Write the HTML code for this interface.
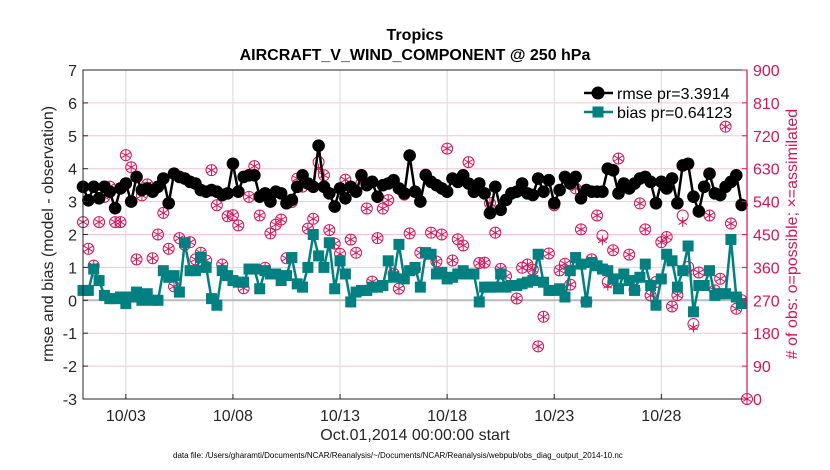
<!DOCTYPE html>
<html><head><meta charset="utf-8"><style>
body{margin:0;background:#fff;}
svg{display:block;font-family:"Liberation Sans",sans-serif;}
</style></head><body>
<svg id="chart" width="830" height="470" viewBox="0 0 830 470"></svg>
<script>
const rmse=[3.45,3.04,3.45,3.1,3.45,3.3,2.8,3.4,3.55,3.0,3.75,3.35,3.4,3.3,3.45,3.7,2.95,3.85,3.75,3.7,3.6,3.55,3.35,3.3,3.35,3.3,3.2,3.25,4.15,3.3,3.75,3.8,3.8,3.15,3.25,3.0,3.3,3.25,2.95,3.05,3.45,3.8,3.55,3.45,4.7,
3.45,3.25,2.85,3.4,3.1,3.45,3.3,3.8,3.5,3.6,3.15,3.5,3.55,3.65,3.4,3.25,4.4,3.3,3.0,3.8,3.6,3.5,3.4,3.3,3.7,3.6,3.8,3.55,3.3,3.55,3.25,2.65,3.45,2.75,3.05,3.25,3.3,3.55,3.25,3.2,3.7,
3.3,3.65,2.95,3.35,3.75,3.55,3.75,3.1,3.35,3.3,3.3,3.3,4.0,3.95,3.25,3.55,3.4,3.55,3.7,3.75,3.6,2.95,3.6,3.4,3.7,2.95,4.1,4.15,3.15,2.7,3.45,3.85,3.25,3.2,3.45,3.6,3.8,2.9,null];
const bias=[0.3,0.3,0.95,0.6,0.15,0.05,0.05,0.1,-0.1,0.1,0.25,0.0,0.2,0.0,0.0,0.9,0.7,0.75,0.25,1.75,0.9,0.9,1.3,1.0,0.05,-0.15,0.9,0.75,0.6,0.55,0.55,0.95,0.95,0.35,0.9,0.8,0.8,0.6,0.75,1.3,0.5,0.4,1.0,2.0,1.35,
1.0,1.75,0.35,1.2,0.8,-0.05,0.25,0.3,0.3,0.4,0.4,0.45,1.2,0.7,1.7,0.65,0.9,1.0,0.4,1.45,1.4,0.8,0.85,0.65,0.7,0.8,0.9,0.8,0.8,-0.05,0.4,0.4,0.4,0.8,0.4,0.45,0.45,0.5,0.55,0.6,1.4,
0.55,0.3,0.3,0.35,0.1,0.9,1.3,1.1,-0.05,1.15,1.05,0.95,0.9,0.65,0.35,0.8,0.6,0.3,0.7,1.1,0.45,-0.15,0.65,1.4,1.2,0.4,0.9,1.65,-0.35,0.45,0.45,0.9,0.15,0.2,0.2,1.85,0.1,-0.1,null];
const nPossible=[484,411,365,484,553,581,484,484,667,634,382,557,587,385,450,509,411,308,440,422,429,382,400,379,626,530,368,500,503,475,303,553,637,502,359,453,477,491,385,539,603,581,466,493,648,
612,462,425,397,600,436,400,591,521,321,440,521,544,343,302,559,453,356,400,614,455,376,450,685,379,437,420,648,566,372,373,536,455,356,336,564,275,359,368,354,144,225,
398,530,352,370,313,576,464,266,382,502,447,320,407,658,585,395,299,535,464,283,320,429,443,253,284,502,361,205,346,581,502,297,329,745,480,247,270,0];
const nAssim=nPossible.slice();
nAssim[97]=434;nAssim[112]=484;nAssim[113]=347;nAssim[114]=196;nAssim[44]=630;nAssim[98]=310;
const yTicks=[-3,-2,-1,0,1,2,3,4,5,6,7];
const rTicks=[0,90,180,270,360,450,540,630,720,810,900];
const xTickDays=[2,7,12,17,22,27];
const xTickLabels=["10/03","10/08","10/13","10/18","10/23","10/28"];

const L=83,R=747,T=70,B=399;
const xs=d=>L+(d/31)*(R-L);
const ys=v=>B-(v+3)/10*(B-T);
const yr=n=>B-n/900*(B-T);
const dayOf=i=>i*0.25;
const svg=document.getElementById('chart');
const NS='http://www.w3.org/2000/svg';
function mk(tag,attrs,parent){const e=document.createElementNS(NS,tag);for(const k in attrs)e.setAttribute(k,attrs[k]);(parent||svg).appendChild(e);return e;}
function txt(s,attrs,parent){const e=mk('text',attrs,parent);e.textContent=s;return e;}
const CR='#d6145a',TE='#008080';

yTicks.forEach(v=>{const l=mk('line',{x1:L,x2:R,y1:ys(v),y2:ys(v),stroke:'#f2c6d6','stroke-width':1});

});
xTickDays.forEach(d=>{const l=mk('line',{x1:xs(d),x2:xs(d),y1:T,y2:B,stroke:'#d8d8d8','stroke-width':1});

});
const zl=mk('line',{x1:L,x2:R,y1:ys(0),y2:ys(0),stroke:'#bbbbbb','stroke-width':2});



const obsG=mk('g',{});


nPossible.forEach((n,i)=>{const x=xs(dayOf(i)),y=yr(n);
const c=mk('circle',{cx:x,cy:y,r:5.5,fill:'none',stroke:CR,'stroke-width':1},obsG);

});
nAssim.forEach((n,i)=>{const x=xs(dayOf(i)),y=yr(n);
const g=mk('g',{stroke:CR,'stroke-width':1},obsG);


mk('line',{x1:x,x2:x,y1:y-5,y2:y+5},g);mk('line',{x1:x-4.3,x2:x+4.3,y1:y-2.5,y2:y+2.5},g);mk('line',{x1:x-4.3,x2:x+4.3,y1:y+2.5,y2:y-2.5},g);});

function series(arr,color,name,marker){
const g=mk('g',{});


let d='';arr.forEach((v,i)=>{if(v===null)return;d+=(d?'L':'M')+xs(dayOf(i)).toFixed(1)+' '+ys(v).toFixed(1);});
mk('path',{d:d,fill:'none',stroke:color,'stroke-width':2.5},g);
arr.forEach((v,i)=>{if(v===null)return;const x=xs(dayOf(i)),y=ys(v);let m;
if(marker==='c')m=mk('circle',{cx:x,cy:y,r:6.3,fill:color},g);
else m=mk('rect',{x:x-5.5,y:y-5.5,width:11,height:11,fill:color},g);

});
}
series(bias,TE,'bias-series','s');
series(rmse,'#000','rmse-series','c');

const ax=mk('rect',{x:L,y:T,width:R-L,height:B-T,fill:'none',stroke:'#262626','stroke-width':1});


mk('line',{x1:R,x2:R,y1:T,y2:B,stroke:CR,'stroke-width':1.2});
yTicks.forEach(v=>{mk('line',{x1:L,x2:L+5,y1:ys(v),y2:ys(v),stroke:'#262626'});
const t=txt(String(v),{x:L-6,y:ys(v)+6,'text-anchor':'end','font-size':16,fill:'#262626'});

});
rTicks.forEach(n=>{mk('line',{x1:R-5,x2:R,y1:yr(n),y2:yr(n),stroke:CR});
const t=txt(String(n),{x:R+6,y:yr(n)+6,'font-size':16,fill:CR});

});
xTickDays.forEach((d,k)=>{mk('line',{x1:xs(d),x2:xs(d),y1:B,y2:B-5,stroke:'#262626'});
const t=txt(xTickLabels[k],{x:xs(d),y:B+22,'text-anchor':'middle','font-size':16,fill:'#262626'});

});

const lg=mk('g',{});


mk('line',{x1:584,x2:613,y1:93,y2:93,stroke:'#000','stroke-width':2.5},lg);
mk('circle',{cx:598,cy:93,r:6.5,fill:'#000'},lg);
txt('rmse pr=3.3914',{x:617,y:99,'font-size':16,fill:'#000'},lg);
mk('line',{x1:584,x2:613,y1:112,y2:112,stroke:TE,'stroke-width':2.5},lg);
mk('rect',{x:592.5,y:106.5,width:11,height:11,fill:TE},lg);
txt('bias pr=0.64123',{x:617,y:118,'font-size':16,fill:'#000'},lg);

const t1=txt('Tropics',{x:415,y:40,'text-anchor':'middle','font-size':16,'font-weight':'bold',fill:'#000'});


const t2=txt('AIRCRAFT_V_WIND_COMPONENT @ 250 hPa',{x:415,y:60,'text-anchor':'middle','font-size':16,'font-weight':'bold',fill:'#000'});


const t3=txt('Oct.01,2014 00:00:00 start',{x:415,y:440,'text-anchor':'middle','font-size':16,fill:'#262626'});


const t4=txt('rmse and bias (model - observation)',{x:0,y:0,'text-anchor':'middle','font-size':16,fill:'#262626',transform:'translate(53,234) rotate(-90)'});


const t5=txt('# of obs: o=possible; \u00d7=assimilated',{x:0,y:0,'text-anchor':'middle','font-size':16,fill:CR,transform:'translate(797,234) rotate(-90)'});


const t6=txt('data file: /Users/gharamti/Documents/NCAR/Reanalysis/~/Documents/NCAR/Reanalysis/webpub/obs_diag_output_2014-10.nc',{x:173,y:458,'font-size':8,fill:'#000'});


</script>
</body></html>
